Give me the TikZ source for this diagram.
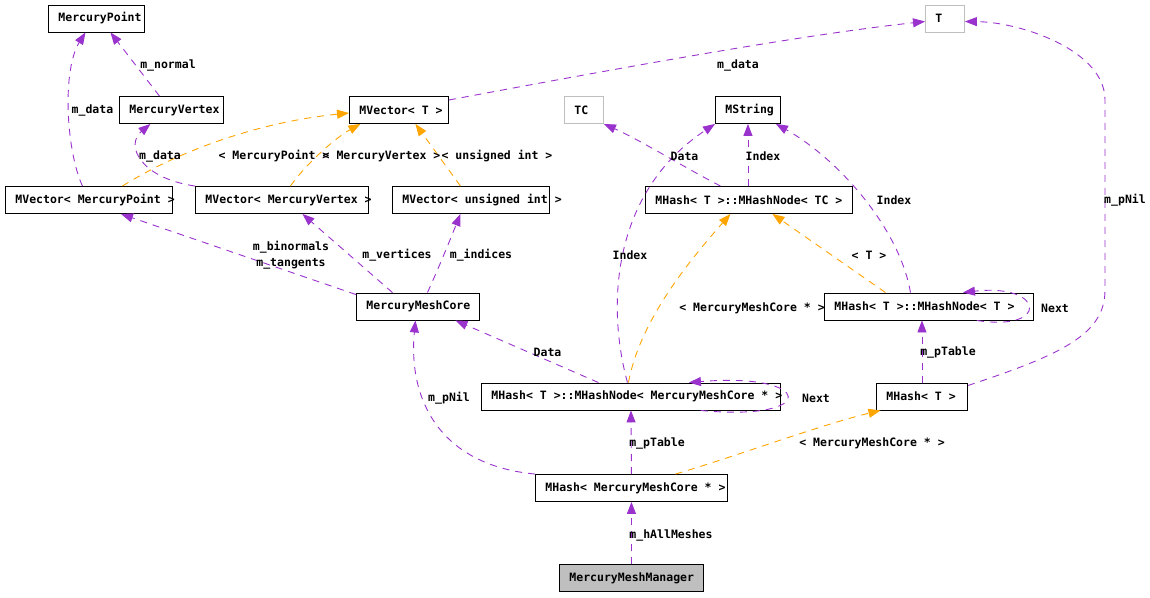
\documentclass[tikz,border=0pt]{standalone}
\usepackage{fontspec}
\setmonofont{DejaVu Sans Mono}
\usetikzlibrary{arrows.meta,calc}
\definecolor{usecol}{HTML}{9A32CD}
\definecolor{tplcol}{HTML}{FFA500}
\definecolor{greyline}{HTML}{BFBFBF}
\newcommand{\clname}[2]{\makebox[#1][l]{#2}}

\begin{document}
\begin{tikzpicture}[x=1pt, y=-1pt, >={Triangle[length=12pt,width=9pt]},
  font=\ttfamily\bfseries\fontsize{11.5}{16}\selectfont,
  cls/.style={draw, line width=0.9pt, anchor=west, minimum height=27pt,
    inner xsep=10pt, inner ysep=0pt},
  lbl/.style={inner sep=0pt, align=center},
  use/.style={draw=usecol, line width=0.9pt, dash pattern=on 7pt off 6pt, ->},
  inst/.style={draw=tplcol, line width=0.9pt, dash pattern=on 7pt off 6pt, ->}]
  \useasboundingbox (0,0) rectangle (1150,597);

  % classes
  \node[cls] (mpoint) at (48,18.5) {\clname{76pt}{MercuryPoint}};
  \node[cls] (mvertex) at (119,110) {\clname{84pt}{MercuryVertex}};
  \node[cls] (mvecT) at (349,110) {\clname{79pt}{MVector< T >}};
  \node[cls, draw=greyline] (tc) at (564,110) {\clname{19pt}{TC}};
  \node[cls] (mstring) at (715,110) {\clname{45pt}{MString}};
  \node[cls, draw=greyline] (tparam) at (925,18.5) {\clname{19pt}{T}};
  \node[cls] (mvecpoint) at (5,200) {\clname{147pt}{MVector< MercuryPoint >}};
  \node[cls] (mvecvertex) at (195,200) {\clname{153pt}{MVector< MercuryVertex >}};
  \node[cls] (mvecuint) at (392,200) {\clname{137pt}{MVector< unsigned int >}};
  \node[cls] (nodetc) at (645,200) {\clname{187pt}{MHash< T >::MHashNode< TC >}};
  \node[cls] (meshcore) at (356,306.5) {\clname{103pt}{MercuryMeshCore}};
  \node[cls] (nodeT) at (824,306.5) {\clname{189pt}{MHash< T >::MHashNode< T >}};
  \node[cls] (nodemc) at (481,396.5) {\clname{279pt}{MHash< T >::MHashNode< MercuryMeshCore * >}};
  \node[cls] (mhashT) at (876,396.5) {\clname{71pt}{MHash< T >}};
  \node[cls] (mhashmc) at (535,488) {\clname{172pt}{MHash< MercuryMeshCore * >}};
  \node[cls, fill=greyline] (manager) at (559,578) {\clname{124pt}{MercuryMeshManager}};

  % members
  \draw[use] ([xshift=-6.5pt]mvecpoint.north) .. controls (66,150) and (62,70) .. ([xshift=-11pt]mpoint.south);
  \draw[use] ([xshift=-12pt]mvertex.north) -- ([xshift=14pt]mpoint.south);
  \draw[use] (mvecvertex.north west) .. controls (140,178) and (125,145) .. ([xshift=-21pt]mvertex.south);
  \draw[use] ([yshift=10pt]mvecT.east) .. controls (620,68) and (800,35) .. ([yshift=-3pt]tparam.west);
  \draw[use] ([xshift=-28.5pt]nodetc.north) .. controls (680,165) and (640,140) .. (tc.south east);
  \draw[use] ([xshift=-1pt]nodetc.north) -- (mstring.south);
  \draw[use] ([xshift=-18.5pt]nodeT.north) .. controls (900,230) and (840,160) .. ([xshift=28pt]mstring.south);
  \draw[use] ([xshift=-3.5pt]nodemc.north) .. controls (605,300) and (615,190) .. (mstring.south west);
  \draw[use] ([yshift=-2pt]meshcore.north west) -- ([xshift=32pt]mvecpoint.south);
  \draw[use] ([xshift=-25.5pt]meshcore.north) -- ([xshift=20.5pt]mvecvertex.south);
  \draw[use] ([xshift=9.5pt]meshcore.north) .. controls (440,265) and (452,235) .. ([xshift=-10.5pt]mvecuint.south);
  \draw[use] ([xshift=-32.5pt]nodemc.north) -- ([xshift=37.5pt]meshcore.south);
  \draw[use] (mhashmc.north west) .. controls (440,465) and (408,400) .. ([xshift=-2.5pt]meshcore.south);
  \draw[use] (mhashmc.north) -- (nodemc.south);
  \draw[use] (mhashT.north) -- ([xshift=-7pt]nodeT.south);
  \draw[use] ([yshift=11pt]mhashT.east) .. controls (1060,355) and (1105,335) .. (1105,290)
    -- (1105,100) .. controls (1105,50) and (1020,22) .. ([yshift=-3pt]tparam.east);
  \draw[use] (manager.north) -- (mhashmc.south);
  \draw[use] ([xshift=48pt]nodeT.south) .. controls (1050,332) and (1045,283) .. ([xshift=34pt]nodeT.north);
  \draw[use] ([xshift=70pt]nodemc.south) .. controls (820,422) and (815,372) .. ([xshift=58pt]nodemc.north);

  % template instances
  \draw[inst] ([xshift=33.5pt]mvecpoint.north) .. controls (180,150) and (260,122) .. ([yshift=-3pt]mvecT.west);
  \draw[inst] ([xshift=8.5pt]mvecvertex.north) .. controls (305,165) and (335,138) .. ([xshift=-38.5pt]mvecT.south);
  \draw[inst] ([xshift=-10.5pt]mvecuint.north) -- ([xshift=16.5pt]mvecT.south);
  \draw[inst] ([xshift=-43.5pt]nodeT.north) -- ([xshift=23.5pt]nodetc.south);
  \draw[inst] ([xshift=-2.5pt]nodemc.north) .. controls (640,320) and (690,260) .. ([xshift=-18.5pt]nodetc.south);
  \draw[inst] ([xshift=44pt]mhashmc.north) .. controls (740,455) and (820,425) .. ([xshift=-41.5pt]mhashT.south);

  % edge labels
  \node[lbl] (l-pdata) at (92.5,110) {m\_data};
  \node[lbl] (l-normal) at (168,65) {m\_normal};
  \node[lbl] (l-vdata) at (160,156) {m\_data};
  \node[lbl] (l-point) at (274,156) {< MercuryPoint >};
  \node[lbl] (l-vertex) at (381.5,156) {< MercuryVertex >};
  \node[lbl] (l-uint) at (497,156) {< unsigned int >};
  \node[lbl] (l-tdata) at (738,65) {m\_data};
  \node[lbl] (l-tcdata) at (684.5,156) {Data};
  \node[lbl] (l-tcindex) at (763,156) {Index};
  \node[lbl] (l-tindex) at (894,200) {Index};
  \node[lbl] (l-mcindex) at (630,255) {Index};
  \node[lbl] (l-binorm) at (291,255) {m\_binormals\\m\_tangents};
  \node[lbl] (l-verts) at (397,255) {m\_vertices};
  \node[lbl] (l-indices) at (481,255) {m\_indices};
  \node[lbl] (l-tinst) at (869,255) {< T >};
  \node[lbl] (l-nodeinst) at (752,308) {< MercuryMeshCore * >};
  \node[lbl] (l-tnext) at (1055,308) {Next};
  \node[lbl] (l-mcnext) at (816,398) {Next};
  \node[lbl] (l-mcdata) at (547.5,352) {Data};
  \node[lbl] (l-mcnil) at (449,398) {m\_pNil};
  \node[lbl] (l-mctable) at (657,443) {m\_pTable};
  \node[lbl] (l-hashinst) at (872,443) {< MercuryMeshCore * >};
  \node[lbl] (l-ttable) at (948,352) {m\_pTable};
  \node[lbl] (l-tnil) at (1125,200) {m\_pNil};
  \node[lbl] (l-meshes) at (671,535) {m\_hAllMeshes};
\end{tikzpicture}
\end{document}
